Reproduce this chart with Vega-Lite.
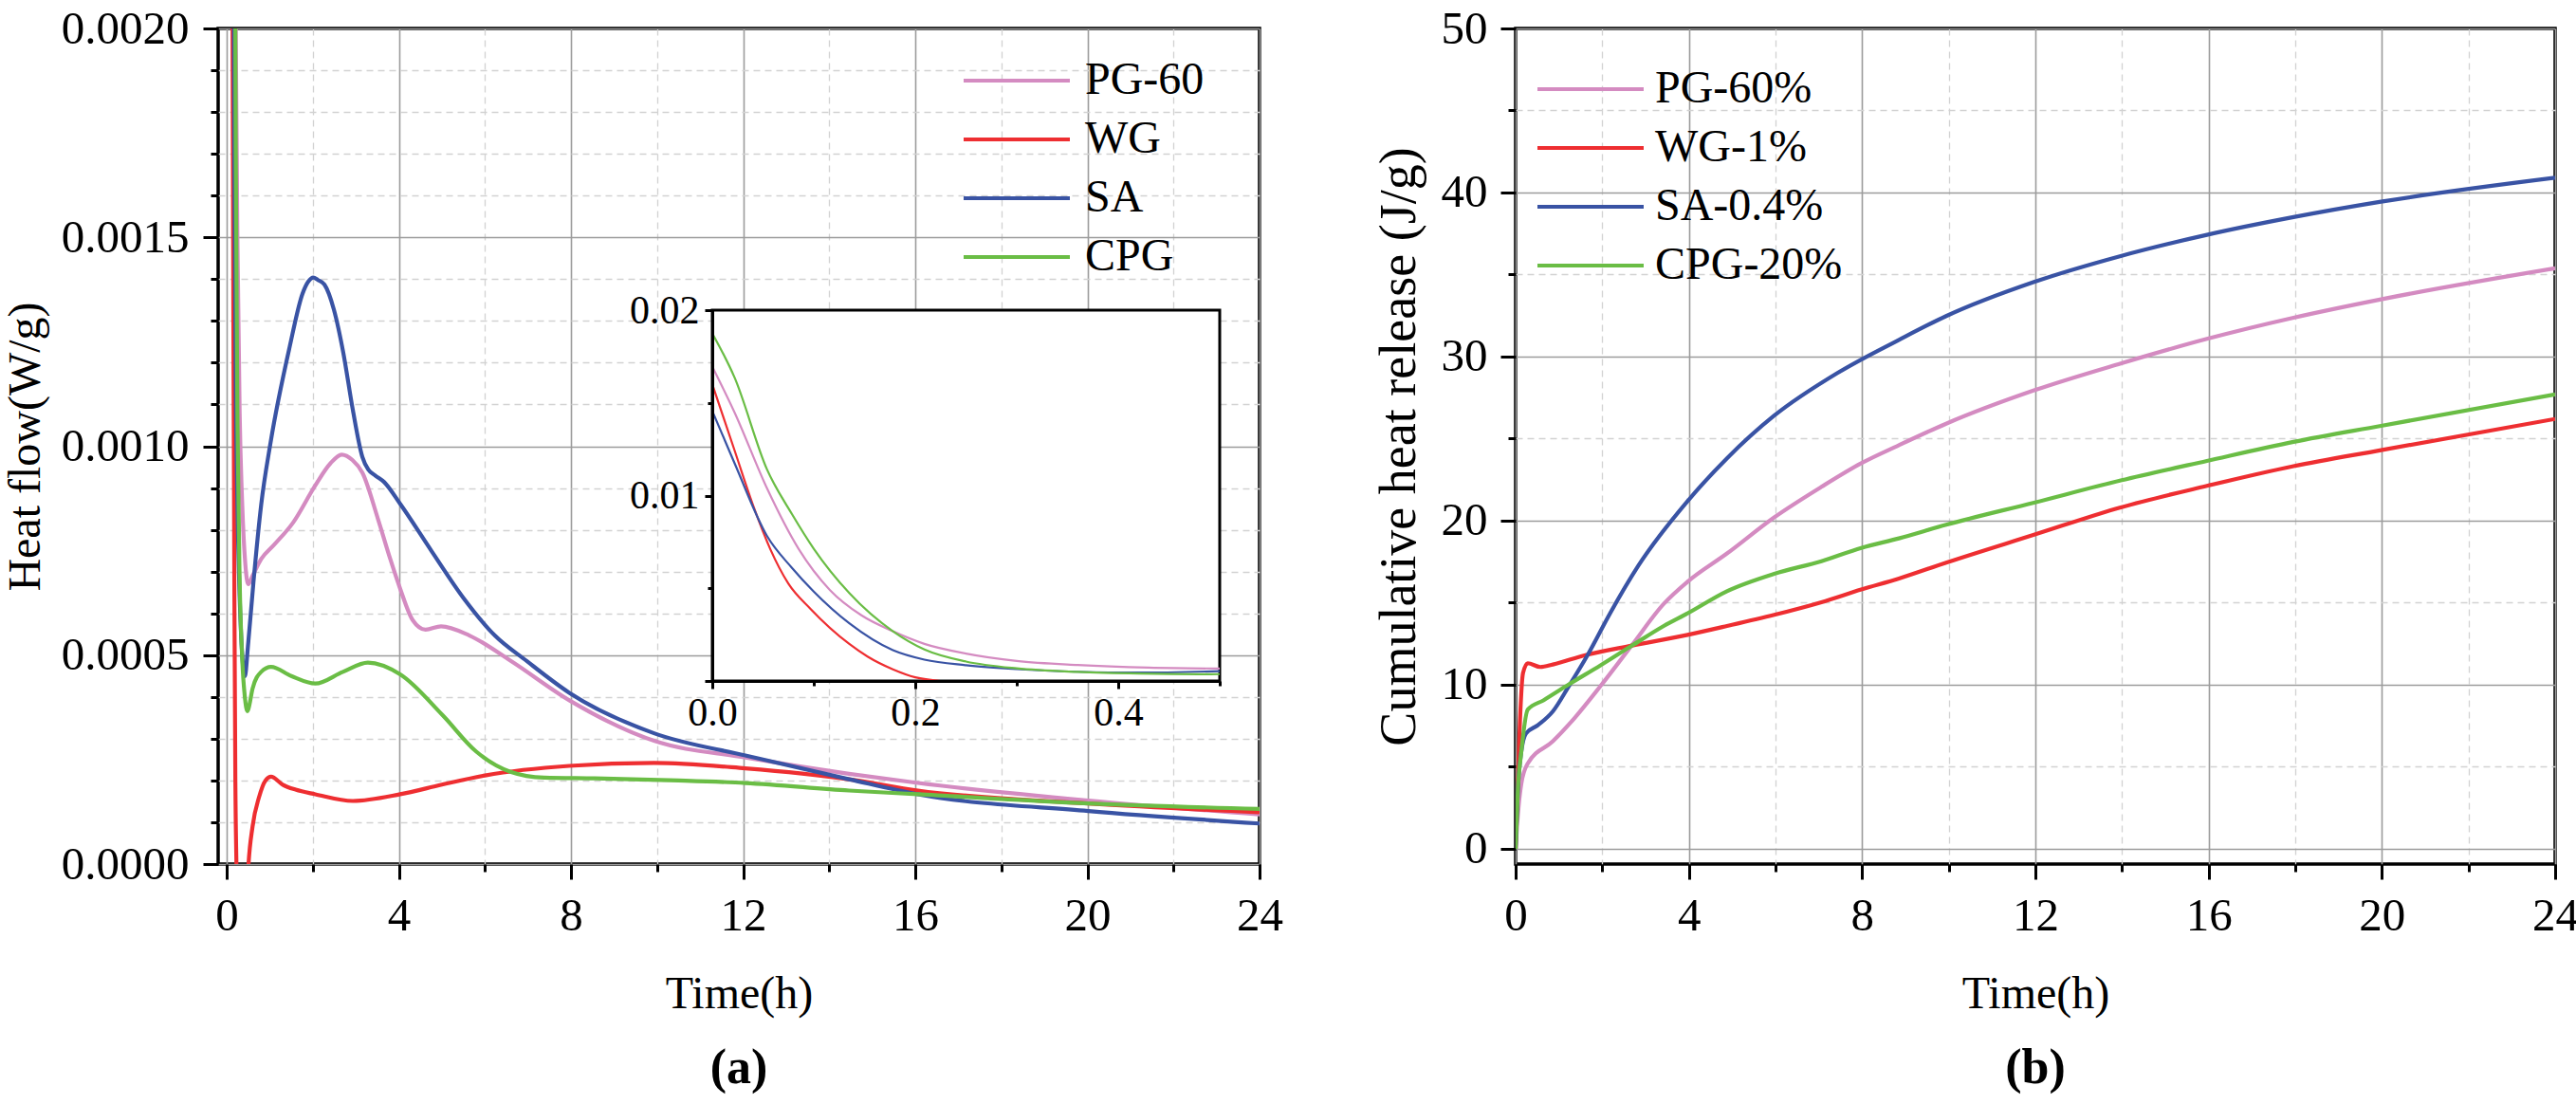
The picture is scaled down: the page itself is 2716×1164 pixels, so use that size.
{
  "$schema": "https://vega.github.io/schema/vega-lite/v6.json",
  "background": "white",
  "padding": {"left": 1, "top": 4, "right": 10, "bottom": 5},
  "autosize": {"type": "pad"},
  "bounds": "flush",
  "spacing": 270,
  "config": {
    "font": "Liberation Serif",
    "view": {"stroke": "black", "strokeWidth": 3.5},
    "style": {"guide-label": {"font": "Liberation Serif"}, "guide-title": {"font": "Liberation Serif"}},
    "axis": {
      "domain": false,
      "labelFont": "Liberation Serif",
      "labelFontSize": 49,
      "labelColor": "black",
      "labelOverlap": false,
      "labelFlush": false,
      "labelBound": false,
      "titleFont": "Liberation Serif",
      "titleFontSize": 48,
      "titleFontWeight": "normal",
      "titleColor": "black",
      "tickColor": "black",
      "tickWidth": 3
    },
    "legend": {
      "orient": "none",
      "symbolType": "stroke",
      "symbolSize": 12544,
      "symbolStrokeWidth": 4,
      "clipHeight": 48,
      "rowPadding": 14,
      "labelFont": "Liberation Serif",
      "labelFontSize": 48,
      "labelColor": "black",
      "labelLimit": 0,
      "padding": 0,
      "title": null
    }
  },
  "datasets": {
    "flow": [
      {"time": 0, "value": 0.01696, "sample": "PG-60"},
      {"time": 0.022, "value": 0.01448, "sample": "PG-60"},
      {"time": 0.054, "value": 0.01038, "sample": "PG-60"},
      {"time": 0.085, "value": 0.00713, "sample": "PG-60"},
      {"time": 0.116, "value": 0.0049, "sample": "PG-60"},
      {"time": 0.147, "value": 0.00354, "sample": "PG-60"},
      {"time": 0.178, "value": 0.00268, "sample": "PG-60"},
      {"time": 0.209, "value": 0.002, "sample": "PG-60"},
      {"time": 0.25, "value": 0.00148, "sample": "PG-60"},
      {"time": 0.3, "value": 0.00108, "sample": "PG-60"},
      {"time": 0.36, "value": 0.00086, "sample": "PG-60"},
      {"time": 0.43, "value": 0.00072, "sample": "PG-60"},
      {"time": 0.5, "value": 0.00067, "sample": "PG-60"},
      {"time": 0.6, "value": 0.00069, "sample": "PG-60"},
      {"time": 0.8, "value": 0.00073, "sample": "PG-60"},
      {"time": 1.1, "value": 0.000764, "sample": "PG-60"},
      {"time": 1.54, "value": 0.000817, "sample": "PG-60"},
      {"time": 2.05, "value": 0.000905, "sample": "PG-60"},
      {"time": 2.41, "value": 0.000959, "sample": "PG-60"},
      {"time": 2.67, "value": 0.00098, "sample": "PG-60"},
      {"time": 2.92, "value": 0.000967, "sample": "PG-60"},
      {"time": 3.15, "value": 0.000937, "sample": "PG-60"},
      {"time": 3.52, "value": 0.000824, "sample": "PG-60"},
      {"time": 3.8, "value": 0.00073, "sample": "PG-60"},
      {"time": 4.03, "value": 0.000659, "sample": "PG-60"},
      {"time": 4.32, "value": 0.000584, "sample": "PG-60"},
      {"time": 4.62, "value": 0.000561, "sample": "PG-60"},
      {"time": 4.98, "value": 0.000569, "sample": "PG-60"},
      {"time": 5.64, "value": 0.000547, "sample": "PG-60"},
      {"time": 6.59, "value": 0.000487, "sample": "PG-60"},
      {"time": 7.96, "value": 0.000392, "sample": "PG-60"},
      {"time": 9.93, "value": 0.000295, "sample": "PG-60"},
      {"time": 12.05, "value": 0.000255, "sample": "PG-60"},
      {"time": 14.46, "value": 0.000216, "sample": "PG-60"},
      {"time": 16.06, "value": 0.000194, "sample": "PG-60"},
      {"time": 20.02, "value": 0.000152, "sample": "PG-60"},
      {"time": 24, "value": 0.000119, "sample": "PG-60"},

      {"time": 0, "value": 0.016, "sample": "WG"},
      {"time": 0.022, "value": 0.01243, "sample": "WG"},
      {"time": 0.041, "value": 0.00935, "sample": "WG"},
      {"time": 0.057, "value": 0.00713, "sample": "WG"},
      {"time": 0.075, "value": 0.00525, "sample": "WG"},
      {"time": 0.097, "value": 0.00388, "sample": "WG"},
      {"time": 0.135, "value": 0.002, "sample": "WG"},
      {"time": 0.153, "value": 0.00132, "sample": "WG"},
      {"time": 0.178, "value": 0.00063, "sample": "WG"},
      {"time": 0.2, "value": 0.0002, "sample": "WG"},
      {"time": 0.225, "value": 0.0, "sample": "WG"},
      {"time": 0.28, "value": -0.00025, "sample": "WG"},
      {"time": 0.36, "value": -0.0003, "sample": "WG"},
      {"time": 0.44, "value": -0.00015, "sample": "WG"},
      {"time": 0.5, "value": -0.00001, "sample": "WG"},
      {"time": 0.6, "value": 0.00009, "sample": "WG"},
      {"time": 0.75, "value": 0.00016, "sample": "WG"},
      {"time": 0.9, "value": 0.0002, "sample": "WG"},
      {"time": 1.03, "value": 0.000209, "sample": "WG"},
      {"time": 1.3, "value": 0.00019, "sample": "WG"},
      {"time": 1.6, "value": 0.000178, "sample": "WG"},
      {"time": 2.06, "value": 0.000167, "sample": "WG"},
      {"time": 2.93, "value": 0.000151, "sample": "WG"},
      {"time": 4.03, "value": 0.000167, "sample": "WG"},
      {"time": 5.0, "value": 0.00019, "sample": "WG"},
      {"time": 6.0, "value": 0.000212, "sample": "WG"},
      {"time": 7.96, "value": 0.000235, "sample": "WG"},
      {"time": 9.93, "value": 0.000242, "sample": "WG"},
      {"time": 12.05, "value": 0.000229, "sample": "WG"},
      {"time": 14.46, "value": 0.000203, "sample": "WG"},
      {"time": 16.06, "value": 0.000176, "sample": "WG"},
      {"time": 20.02, "value": 0.000145, "sample": "WG"},
      {"time": 24, "value": 0.000124, "sample": "WG"},

      {"time": 0, "value": 0.01456, "sample": "SA"},
      {"time": 0.022, "value": 0.01174, "sample": "SA"},
      {"time": 0.054, "value": 0.00781, "sample": "SA"},
      {"time": 0.0785, "value": 0.0061, "sample": "SA"},
      {"time": 0.1, "value": 0.00482, "sample": "SA"},
      {"time": 0.135, "value": 0.00311, "sample": "SA"},
      {"time": 0.178, "value": 0.00166, "sample": "SA"},
      {"time": 0.209, "value": 0.00115, "sample": "SA"},
      {"time": 0.25, "value": 0.00085, "sample": "SA"},
      {"time": 0.3, "value": 0.00064, "sample": "SA"},
      {"time": 0.36, "value": 0.0005, "sample": "SA"},
      {"time": 0.42, "value": 0.00045, "sample": "SA"},
      {"time": 0.5, "value": 0.00053, "sample": "SA"},
      {"time": 0.62, "value": 0.000674, "sample": "SA"},
      {"time": 0.8, "value": 0.00086, "sample": "SA"},
      {"time": 1.02, "value": 0.00101, "sample": "SA"},
      {"time": 1.46, "value": 0.001237, "sample": "SA"},
      {"time": 1.76, "value": 0.001365, "sample": "SA"},
      {"time": 1.9, "value": 0.001395, "sample": "SA"},
      {"time": 2.01, "value": 0.001404, "sample": "SA"},
      {"time": 2.12, "value": 0.001398, "sample": "SA"},
      {"time": 2.27, "value": 0.001387, "sample": "SA"},
      {"time": 2.49, "value": 0.001327, "sample": "SA"},
      {"time": 2.71, "value": 0.001223, "sample": "SA"},
      {"time": 2.93, "value": 0.001087, "sample": "SA"},
      {"time": 3.15, "value": 0.000975, "sample": "SA"},
      {"time": 3.29, "value": 0.000944, "sample": "SA"},
      {"time": 3.45, "value": 0.00093, "sample": "SA"},
      {"time": 3.66, "value": 0.000914, "sample": "SA"},
      {"time": 4.03, "value": 0.000862, "sample": "SA"},
      {"time": 4.76, "value": 0.000749, "sample": "SA"},
      {"time": 5.5, "value": 0.000637, "sample": "SA"},
      {"time": 6.23, "value": 0.000547, "sample": "SA"},
      {"time": 6.97, "value": 0.000486, "sample": "SA"},
      {"time": 7.96, "value": 0.00041, "sample": "SA"},
      {"time": 9.93, "value": 0.000313, "sample": "SA"},
      {"time": 12.05, "value": 0.00026, "sample": "SA"},
      {"time": 14.46, "value": 0.000203, "sample": "SA"},
      {"time": 16.06, "value": 0.000167, "sample": "SA"},
      {"time": 20.02, "value": 0.000127, "sample": "SA"},
      {"time": 24, "value": 0.000097, "sample": "SA"},

      {"time": 0, "value": 0.01875, "sample": "CPG"},
      {"time": 0.022, "value": 0.01636, "sample": "CPG"},
      {"time": 0.054, "value": 0.0114, "sample": "CPG"},
      {"time": 0.0785, "value": 0.009, "sample": "CPG"},
      {"time": 0.1, "value": 0.00713, "sample": "CPG"},
      {"time": 0.135, "value": 0.00474, "sample": "CPG"},
      {"time": 0.178, "value": 0.00268, "sample": "CPG"},
      {"time": 0.209, "value": 0.0017, "sample": "CPG"},
      {"time": 0.25, "value": 0.00105, "sample": "CPG"},
      {"time": 0.3, "value": 0.00068, "sample": "CPG"},
      {"time": 0.36, "value": 0.00049, "sample": "CPG"},
      {"time": 0.42, "value": 0.0004, "sample": "CPG"},
      {"time": 0.48, "value": 0.000366, "sample": "CPG"},
      {"time": 0.5, "value": 0.00037, "sample": "CPG"},
      {"time": 0.6, "value": 0.00042, "sample": "CPG"},
      {"time": 0.8, "value": 0.00046, "sample": "CPG"},
      {"time": 1.03, "value": 0.000472, "sample": "CPG"},
      {"time": 1.5, "value": 0.00045, "sample": "CPG"},
      {"time": 2.06, "value": 0.000432, "sample": "CPG"},
      {"time": 2.7, "value": 0.00046, "sample": "CPG"},
      {"time": 3.28, "value": 0.000482, "sample": "CPG"},
      {"time": 4.03, "value": 0.000454, "sample": "CPG"},
      {"time": 5.01, "value": 0.000357, "sample": "CPG"},
      {"time": 5.8, "value": 0.000269, "sample": "CPG"},
      {"time": 6.59, "value": 0.000221, "sample": "CPG"},
      {"time": 7.38, "value": 0.000207, "sample": "CPG"},
      {"time": 8.55, "value": 0.000205, "sample": "CPG"},
      {"time": 10.5, "value": 0.0002, "sample": "CPG"},
      {"time": 12.05, "value": 0.000194, "sample": "CPG"},
      {"time": 14.46, "value": 0.000176, "sample": "CPG"},
      {"time": 16.06, "value": 0.000167, "sample": "CPG"},
      {"time": 20.02, "value": 0.000145, "sample": "CPG"},
      {"time": 24, "value": 0.000132, "sample": "CPG"}
    ],
    "cum": [
      {"time": 0, "value": 0, "sample": "PG-60%"},
      {"time": 0.05, "value": 2.0, "sample": "PG-60%"},
      {"time": 0.13, "value": 3.95, "sample": "PG-60%"},
      {"time": 0.28, "value": 5.2, "sample": "PG-60%"},
      {"time": 0.86, "value": 6.55, "sample": "PG-60%"},
      {"time": 1.37, "value": 8.0, "sample": "PG-60%"},
      {"time": 1.96, "value": 9.92, "sample": "PG-60%"},
      {"time": 2.69, "value": 12.43, "sample": "PG-60%"},
      {"time": 3.42, "value": 14.93, "sample": "PG-60%"},
      {"time": 3.97, "value": 16.28, "sample": "PG-60%"},
      {"time": 4.88, "value": 18.0, "sample": "PG-60%"},
      {"time": 5.97, "value": 20.2, "sample": "PG-60%"},
      {"time": 7.06, "value": 22.06, "sample": "PG-60%"},
      {"time": 7.98, "value": 23.5, "sample": "PG-60%"},
      {"time": 8.85, "value": 24.6, "sample": "PG-60%"},
      {"time": 9.94, "value": 25.91, "sample": "PG-60%"},
      {"time": 11.97, "value": 27.94, "sample": "PG-60%"},
      {"time": 13.97, "value": 29.58, "sample": "PG-60%"},
      {"time": 15.96, "value": 31.08, "sample": "PG-60%"},
      {"time": 17.96, "value": 32.37, "sample": "PG-60%"},
      {"time": 19.98, "value": 33.49, "sample": "PG-60%"},
      {"time": 24, "value": 35.38, "sample": "PG-60%"},

      {"time": 0, "value": 0, "sample": "WG-1%"},
      {"time": 0.05, "value": 4.0, "sample": "WG-1%"},
      {"time": 0.1, "value": 7.8, "sample": "WG-1%"},
      {"time": 0.17, "value": 10.7, "sample": "WG-1%"},
      {"time": 0.28, "value": 11.31, "sample": "WG-1%"},
      {"time": 0.57, "value": 11.08, "sample": "WG-1%"},
      {"time": 0.86, "value": 11.23, "sample": "WG-1%"},
      {"time": 1.59, "value": 11.79, "sample": "WG-1%"},
      {"time": 2.69, "value": 12.39, "sample": "WG-1%"},
      {"time": 3.97, "value": 13.04, "sample": "WG-1%"},
      {"time": 4.88, "value": 13.58, "sample": "WG-1%"},
      {"time": 5.97, "value": 14.26, "sample": "WG-1%"},
      {"time": 7.06, "value": 15.03, "sample": "WG-1%"},
      {"time": 7.98, "value": 15.8, "sample": "WG-1%"},
      {"time": 8.85, "value": 16.47, "sample": "WG-1%"},
      {"time": 9.94, "value": 17.44, "sample": "WG-1%"},
      {"time": 11.97, "value": 19.14, "sample": "WG-1%"},
      {"time": 13.97, "value": 20.81, "sample": "WG-1%"},
      {"time": 15.96, "value": 22.12, "sample": "WG-1%"},
      {"time": 17.96, "value": 23.32, "sample": "WG-1%"},
      {"time": 19.98, "value": 24.3, "sample": "WG-1%"},
      {"time": 24, "value": 26.2, "sample": "WG-1%"},

      {"time": 0, "value": 0, "sample": "SA-0.4%"},
      {"time": 0.05, "value": 3.5, "sample": "SA-0.4%"},
      {"time": 0.13, "value": 5.9, "sample": "SA-0.4%"},
      {"time": 0.24, "value": 7.03, "sample": "SA-0.4%"},
      {"time": 0.5, "value": 7.51, "sample": "SA-0.4%"},
      {"time": 0.86, "value": 8.38, "sample": "SA-0.4%"},
      {"time": 1.23, "value": 9.92, "sample": "SA-0.4%"},
      {"time": 1.67, "value": 11.85, "sample": "SA-0.4%"},
      {"time": 2.18, "value": 14.35, "sample": "SA-0.4%"},
      {"time": 2.83, "value": 17.24, "sample": "SA-0.4%"},
      {"time": 3.97, "value": 21.19, "sample": "SA-0.4%"},
      {"time": 4.88, "value": 23.8, "sample": "SA-0.4%"},
      {"time": 5.97, "value": 26.4, "sample": "SA-0.4%"},
      {"time": 7.43, "value": 29.0, "sample": "SA-0.4%"},
      {"time": 8.85, "value": 31.02, "sample": "SA-0.4%"},
      {"time": 9.94, "value": 32.47, "sample": "SA-0.4%"},
      {"time": 11.97, "value": 34.55, "sample": "SA-0.4%"},
      {"time": 13.97, "value": 36.13, "sample": "SA-0.4%"},
      {"time": 15.96, "value": 37.42, "sample": "SA-0.4%"},
      {"time": 17.96, "value": 38.5, "sample": "SA-0.4%"},
      {"time": 19.98, "value": 39.44, "sample": "SA-0.4%"},
      {"time": 24, "value": 40.9, "sample": "SA-0.4%"},

      {"time": 0, "value": 0, "sample": "CPG-20%"},
      {"time": 0.05, "value": 3.5, "sample": "CPG-20%"},
      {"time": 0.13, "value": 5.88, "sample": "CPG-20%"},
      {"time": 0.28, "value": 8.48, "sample": "CPG-20%"},
      {"time": 0.65, "value": 9.06, "sample": "CPG-20%"},
      {"time": 1.23, "value": 10.02, "sample": "CPG-20%"},
      {"time": 1.96, "value": 11.18, "sample": "CPG-20%"},
      {"time": 2.69, "value": 12.39, "sample": "CPG-20%"},
      {"time": 3.42, "value": 13.58, "sample": "CPG-20%"},
      {"time": 3.97, "value": 14.35, "sample": "CPG-20%"},
      {"time": 4.88, "value": 15.7, "sample": "CPG-20%"},
      {"time": 5.97, "value": 16.76, "sample": "CPG-20%"},
      {"time": 7.06, "value": 17.53, "sample": "CPG-20%"},
      {"time": 7.98, "value": 18.34, "sample": "CPG-20%"},
      {"time": 8.85, "value": 18.92, "sample": "CPG-20%"},
      {"time": 9.94, "value": 19.75, "sample": "CPG-20%"},
      {"time": 11.97, "value": 21.1, "sample": "CPG-20%"},
      {"time": 13.97, "value": 22.45, "sample": "CPG-20%"},
      {"time": 15.96, "value": 23.64, "sample": "CPG-20%"},
      {"time": 17.96, "value": 24.8, "sample": "CPG-20%"},
      {"time": 19.98, "value": 25.78, "sample": "CPG-20%"},
      {"time": 24, "value": 27.7, "sample": "CPG-20%"}
    ]
  },
  "hconcat": [
    {
      "width": 1098,
      "height": 881,
      "title": {"text": "(a)", "orient": "bottom", "frame": "group", "fontSize": 52, "fontWeight": "bold", "font": "Liberation Serif", "color": "black", "offset": 29},
      "layer": [
        {
          "data": {"name": "flow"},
          "mark": {"type": "line", "clip": true, "strokeWidth": 4.2, "interpolate": "monotone"},
          "encoding": {
            "x": {
              "field": "time", "type": "quantitative",
              "scale": {"domain": [-0.2, 24], "nice": false, "zero": false},
              "axis": {
                "orient": "bottom",
                "title": "Time(h)",
                "values": [0, 2, 4, 6, 8, 10, 12, 14, 16, 18, 20, 22, 24],
                "labelExpr": "datum.value % 4 == 0 ? datum.label : ''",
                "tickSize": {"condition": {"test": "datum.value % 4 == 0", "value": 16}, "value": 8},
                "labelPadding": 14,
                "titlePadding": 34,
                "gridColor": {"condition": {"test": "datum.value % 4 == 0", "value": "#9c9c9c"}, "value": "#d2d2d2"},
                "gridDash": {"condition": {"test": "datum.value % 4 == 0", "value": []}, "value": [7, 5]},
                "gridWidth": {"condition": {"test": "datum.value % 4 == 0", "value": 1.6}, "value": 1.3}
              }
            },
            "y": {
              "field": "value", "type": "quantitative",
              "scale": {"domain": [0, 0.002], "nice": false},
              "axis": {
                "orient": "left",
                "title": "Heat flow(W/g)",
                "values": [0, 0.0001, 0.0002, 0.0003, 0.0004, 0.0005, 0.0006, 0.0007, 0.0008, 0.0009, 0.001, 0.0011, 0.0012, 0.0013, 0.0014, 0.0015, 0.0016, 0.0017, 0.0018, 0.0019, 0.002],
                "labelExpr": "round(datum.value * 10000) % 5 == 0 ? format(datum.value, '.4f') : ''",
                "tickSize": {"condition": {"test": "round(datum.value * 10000) % 5 == 0", "value": 16}, "value": 8},
                "labelPadding": 15,
                "titlePadding": 13,
                "gridColor": {"condition": {"test": "round(datum.value * 10000) % 5 == 0", "value": "#9c9c9c"}, "value": "#d2d2d2"},
                "gridDash": {"condition": {"test": "round(datum.value * 10000) % 5 == 0", "value": []}, "value": [7, 5]},
                "gridWidth": {"condition": {"test": "round(datum.value * 10000) % 5 == 0", "value": 1.6}, "value": 1.3}
              }
            },
            "color": {
              "field": "sample", "type": "nominal",
              "scale": {"domain": ["PG-60", "WG", "SA", "CPG"], "range": ["#D48BC1", "#EE2E31", "#3953A4", "#6ABD45"]},
              "legend": {"legendX": 784, "legendY": 31, "labelOffset": 14}
            }
          }
        },
        {
          "layer": [
            {
              "data": {"values": [{}]},
              "mark": {"type": "rect", "fill": "white", "stroke": "black", "strokeWidth": 3},
              "encoding": {
                "x": {
                  "datum": 0, "type": "quantitative",
                  "scale": {"domain": [0, 0.5], "range": [521, 1056], "nice": false, "zero": false},
                  "axis": {
                    "orient": "bottom", "offset": -193, "zindex": 1, "title": null, "grid": false,
                    "domain": true, "domainColor": "black", "domainWidth": 3,
                    "values": [0, 0.1, 0.2, 0.3, 0.4, 0.5],
                    "labelExpr": "round(datum.value * 10) % 2 == 0 && datum.value < 0.45 ? format(datum.value, '.1f') : ''",
                    "tickSize": {"condition": {"test": "round(datum.value * 10) % 2 == 0", "value": 8}, "value": 5},
                    "labelFontSize": 42, "labelPadding": 5
                  }
                },
                "x2": {"datum": 0.5},
                "y": {
                  "datum": 0, "type": "quantitative",
                  "scale": {"domain": [0, 0.02], "range": [688, 297], "nice": false, "zero": false},
                  "axis": {
                    "orient": "left", "offset": -521, "zindex": 1, "title": null, "grid": false,
                    "domain": true, "domainColor": "black", "domainWidth": 3,
                    "values": [0, 0.005, 0.01, 0.015, 0.02],
                    "labelExpr": "round(datum.value * 1000) % 10 == 0 && datum.value > 0 ? format(datum.value, '.2f') : ''",
                    "tickSize": {"condition": {"test": "round(datum.value * 1000) % 10 == 0", "value": 8}, "value": 5},
                    "labelFontSize": 42, "labelPadding": 6
                  }
                },
                "y2": {"datum": 0.02}
              }
            },
            {
              "data": {"name": "flow"},
              "transform": [{"filter": "datum.time <= 0.5 && datum.value >= 0"}],
              "mark": {"type": "line", "strokeWidth": 2.2, "interpolate": "monotone"},
              "encoding": {
                "x": {
                  "field": "time", "type": "quantitative",
                  "scale": {"domain": [0, 0.5], "range": [521, 1056], "nice": false, "zero": false},
                  "axis": {
                    "orient": "bottom", "offset": -193, "zindex": 1, "title": null, "grid": false,
                    "domain": true, "domainColor": "black", "domainWidth": 3,
                    "values": [0, 0.1, 0.2, 0.3, 0.4, 0.5],
                    "labelExpr": "round(datum.value * 10) % 2 == 0 && datum.value < 0.45 ? format(datum.value, '.1f') : ''",
                    "tickSize": {"condition": {"test": "round(datum.value * 10) % 2 == 0", "value": 8}, "value": 5},
                    "labelFontSize": 42, "labelPadding": 5
                  }
                },
                "y": {
                  "field": "value", "type": "quantitative",
                  "scale": {"domain": [0, 0.02], "range": [688, 297], "nice": false, "zero": false},
                  "axis": {
                    "orient": "left", "offset": -521, "zindex": 1, "title": null, "grid": false,
                    "domain": true, "domainColor": "black", "domainWidth": 3,
                    "values": [0, 0.005, 0.01, 0.015, 0.02],
                    "labelExpr": "round(datum.value * 1000) % 10 == 0 && datum.value > 0 ? format(datum.value, '.2f') : ''",
                    "tickSize": {"condition": {"test": "round(datum.value * 1000) % 10 == 0", "value": 8}, "value": 5},
                    "labelFontSize": 42, "labelPadding": 6
                  }
                },
                "color": {
                  "field": "sample", "type": "nominal",
                  "scale": {"domain": ["PG-60", "WG", "SA", "CPG"], "range": ["#D48BC1", "#EE2E31", "#3953A4", "#6ABD45"]},
                  "legend": {"legendX": 784, "legendY": 31, "labelOffset": 14}
                }
              }
            }
          ]
        }
      ],
      "resolve": {"scale": {"x": "independent", "y": "independent"}}
    },
    {
      "width": 1096,
      "height": 881,
      "title": {"text": "(b)", "orient": "bottom", "frame": "group", "fontSize": 52, "fontWeight": "bold", "font": "Liberation Serif", "color": "black", "offset": 29},
      "data": {"name": "cum"},
      "mark": {"type": "line", "clip": true, "strokeWidth": 4.2, "interpolate": "monotone"},
      "encoding": {
        "x": {
          "field": "time", "type": "quantitative",
          "scale": {"domain": [0, 24], "nice": false, "zero": false},
          "axis": {
            "orient": "bottom",
            "title": "Time(h)",
            "values": [0, 2, 4, 6, 8, 10, 12, 14, 16, 18, 20, 22, 24],
            "labelExpr": "datum.value % 4 == 0 ? datum.label : ''",
            "tickSize": {"condition": {"test": "datum.value % 4 == 0", "value": 16}, "value": 8},
            "labelPadding": 14,
            "titlePadding": 34,
            "gridColor": {"condition": {"test": "datum.value % 4 == 0", "value": "#9c9c9c"}, "value": "#d2d2d2"},
            "gridDash": {"condition": {"test": "datum.value % 4 == 0", "value": []}, "value": [7, 5]},
            "gridWidth": {"condition": {"test": "datum.value % 4 == 0", "value": 1.6}, "value": 1.3}
          }
        },
        "y": {
          "field": "value", "type": "quantitative",
          "scale": {"domain": [-0.93, 50], "nice": false, "zero": false},
          "axis": {
            "orient": "left",
            "title": "Cumulative heat release (J/g)",
            "titleFontSize": 54,
            "values": [0, 5, 10, 15, 20, 25, 30, 35, 40, 45, 50],
            "labelExpr": "datum.value % 10 == 0 ? datum.label : ''",
            "tickSize": {"condition": {"test": "datum.value % 10 == 0", "value": 16}, "value": 8},
            "labelPadding": 14,
            "titlePadding": 17,
            "gridColor": {"condition": {"test": "datum.value % 10 == 0", "value": "#9c9c9c"}, "value": "#d2d2d2"},
            "gridDash": {"condition": {"test": "datum.value % 10 == 0", "value": []}, "value": [7, 5]},
            "gridWidth": {"condition": {"test": "datum.value % 10 == 0", "value": 1.6}, "value": 1.3}
          }
        },
        "color": {
          "field": "sample", "type": "nominal",
          "scale": {"domain": ["PG-60%", "WG-1%", "SA-0.4%", "CPG-20%"], "range": ["#D48BC1", "#EE2E31", "#3953A4", "#6ABD45"]},
          "legend": {"legendX": 21, "legendY": 40, "labelOffset": 10}
        }
      }
    }
  ],
  "resolve": {"scale": {"color": "independent"}}
}
